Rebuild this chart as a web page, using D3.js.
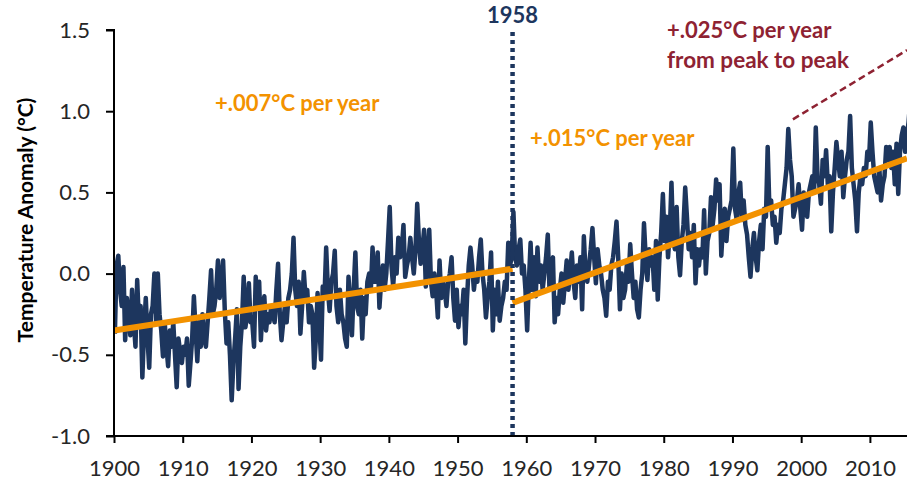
<!DOCTYPE html>
<html>
<head>
<meta charset="utf-8">
<script src="https://cdn.jsdelivr.net/npm/d3@7"></script>
<style>
  body { margin: 0; background: #fff; }
  svg { display: block; font-family: Lato, "Open Sans", sans-serif; }
  .axis path, .axis line { stroke: #000; stroke-width: 2; }
</style>
</head>
<body>
<svg id="chart"></svg>
<script>
// Quarterly temperature anomaly (°C), one array per decade
const anom1900s = [-0.37,0.05,0.11,-0.10, -0.20,0.04,-0.41,-0.15, -0.25,-0.38,-0.10,-0.30, -0.45,-0.04,-0.30,-0.20, -0.64,-0.35,-0.15,-0.40,
                   -0.58,-0.25,-0.20,0.00, -0.30,0.00,-0.25,-0.35, -0.51,-0.30,-0.45,-0.57, -0.35,-0.45,-0.30,-0.50, -0.70,-0.40,-0.48,-0.55];
const anom1910s = [-0.45,-0.50,-0.40,-0.69, -0.55,-0.40,-0.14,-0.35, -0.54,-0.30,-0.45,-0.25, -0.40,-0.45,-0.30,-0.15, 0.02,-0.25,-0.20,-0.10,
                   0.08,-0.15,-0.05,0.08, -0.23,-0.43,-0.30,-0.50, -0.78,-0.55,-0.40,-0.22, -0.71,-0.45,-0.30,-0.02, -0.33,-0.25,-0.06,-0.30];
const anom1920s = [-0.30,-0.45,-0.02,-0.20, -0.05,-0.41,-0.20,-0.14, -0.35,-0.25,-0.30,-0.20, -0.25,-0.30,-0.10,0.06, -0.25,-0.41,-0.30,-0.20,
                   -0.30,-0.15,-0.10,0.00, 0.22,-0.10,-0.20,-0.05, -0.37,-0.20,0.01,-0.15, -0.10,-0.30,-0.20,-0.25, -0.58,-0.40,-0.12,-0.30];
const anom1930s = [-0.53,-0.08,-0.15,0.16, -0.10,-0.23,-0.05,0.00, 0.14,-0.20,-0.30,-0.10, -0.25,-0.30,-0.40,-0.45, -0.02,-0.20,-0.38,-0.10,
                   0.13,-0.20,-0.25,-0.10, -0.40,-0.15,-0.25,-0.05, 0.00,-0.10,0.16,-0.05, -0.05,0.13,-0.21,-0.05, 0.05,-0.10,0.00,0.20];
const anom1940s = [0.41,0.05,-0.08,0.10, 0.00,0.22,0.10,0.15, 0.30,-0.02,0.05,0.10, 0.22,0.10,0.00,0.15, 0.43,0.20,0.06,0.15,
                   0.27,-0.08,0.10,0.27, -0.05,-0.14,0.00,-0.10, -0.27,0.08,-0.15,-0.05, -0.10,-0.20,-0.05,0.00, 0.10,-0.15,-0.29,-0.10];
const anom1950s = [-0.33,-0.20,-0.25,-0.10, -0.43,-0.15,0.05,0.16, 0.05,-0.10,0.00,-0.05, 0.10,0.21,0.00,-0.10, -0.27,-0.15,-0.05,0.13,
                   -0.35,-0.10,-0.25,-0.05, -0.29,-0.20,-0.15,-0.05, -0.10,0.19,0.05,0.10, 0.38,0.10,0.05,0.15, 0.21,0.00,0.05,-0.10];
const anom1960s = [-0.35,-0.05,0.19,-0.10, 0.10,-0.14,0.16,-0.05, 0.05,-0.10,0.00,0.10, 0.24,-0.10,0.05,0.10, -0.30,-0.15,-0.25,-0.10,
                   0.00,-0.18,-0.05,0.08, -0.10,0.00,0.13,-0.05, -0.15,0.05,-0.05,0.10, -0.22,0.23,0.00,-0.05, 0.05,0.15,0.28,0.10];
const anom1970s = [-0.06,0.15,0.05,0.00, -0.10,-0.15,-0.26,-0.05, -0.10,0.05,0.10,0.20, 0.32,0.10,-0.22,0.00, -0.15,-0.10,0.05,-0.05,
                   0.18,0.00,-0.15,-0.05, -0.22,-0.27,-0.10,0.00, 0.31,0.10,-0.04,0.15, 0.05,0.10,-0.10,0.20, -0.16,0.10,0.25,0.49];
const anom1980s = [0.20,0.35,0.10,0.25, 0.56,0.20,0.15,0.41, 0.10,-0.01,0.20,0.30, 0.53,0.35,0.15,0.25, 0.10,0.30,-0.06,0.15,
                   0.05,0.15,0.10,0.39, 0.00,0.20,0.25,0.47, 0.30,0.40,0.58,0.45, 0.55,0.11,0.30,0.40, 0.20,0.35,0.40,0.45];
const anom1990s = [0.77,0.40,0.33,0.50, 0.56,0.33,0.45,0.30, 0.24,0.10,-0.02,0.15, 0.25,0.10,0.02,0.20, 0.30,0.15,0.40,0.35,
                   0.78,0.40,0.45,0.30, 0.35,0.19,0.30,0.25, 0.40,0.45,0.55,0.65, 0.89,0.70,0.60,0.35, 0.40,0.45,0.55,0.40];
const anom2000s = [0.27,0.50,0.45,0.35, 0.50,0.55,0.60,0.50, 0.90,0.60,0.55,0.43, 0.70,0.60,0.76,0.55, 0.60,0.26,0.50,0.65,
                   0.81,0.70,0.60,0.75, 0.47,0.60,0.70,0.75, 0.97,0.65,0.55,0.45, 0.26,0.50,0.60,0.55, 0.65,0.60,0.75,0.70];
const anom2010s = [0.93,0.75,0.60,0.55, 0.50,0.65,0.45,0.55, 0.60,0.78,0.70,0.78, 0.65,0.75,0.55,0.80, 0.49,0.75,0.85,0.90,
                   0.75,0.85,0.93,1.07];

// Trend lines (year, °C)
const trendBefore = [[1900, -0.35], [1958, 0.03]];
const trendAfter = [[1958, -0.18], [2015.4, 0.71]];
const trendPeak = [[1998.8, 0.95], [2015.4, 1.376]];
const splitYear = 1958;

const yTicks = [-1.0, -0.5, 0.0, 0.5, 1.0, 1.5];
const xTicks = [1900, 1910, 1920, 1930, 1940, 1950, 1960, 1970, 1980, 1990, 2000, 2010];

const WIDTH = 907, HEIGHT = 480;
const margin = { top: 30, right: 0, bottom: 44, left: 114 };
const navy = '#1d365e', orange = '#f39200', darkRed = '#8e2232';

const values = [].concat(anom1900s, anom1910s, anom1920s, anom1930s, anom1940s, anom1950s,
    anom1960s, anom1970s, anom1980s, anom1990s, anom2000s, anom2010s);
const series = values.map((v, i) => ({ year: 1900 + (i + 0.5) / 4, v: v }));

let svg = d3.select('#chart')
    .attr('width', WIDTH)
    .attr('height', HEIGHT);

let x = d3.scaleLinear()
    .domain([1900, 2015.4])
    .range([margin.left, WIDTH - margin.right]);
let y = d3.scaleLinear()
    .domain([-1.0, 1.5])
    .range([HEIGHT - margin.bottom, margin.top]);

svg.append('clipPath').attr('id', 'plot-clip')
    .append('rect')
    .attr('x', margin.left).attr('y', 0)
    .attr('width', WIDTH - margin.left).attr('height', HEIGHT - margin.bottom);

let line = d3.line().x(d => x(d.year)).y(d => y(d.v));
let trendLine = d3.line().x(d => x(d[0])).y(d => y(d[1]));

svg.append('path')
    .datum(series)
    .attr('clip-path', 'url(#plot-clip)')
    .attr('d', line)
    .attr('fill', 'none')
    .attr('stroke', navy)
    .attr('stroke-width', 4.5)
    .attr('stroke-linejoin', 'round');

[trendBefore, trendAfter].forEach(t => {
    svg.append('path')
        .datum(t)
        .attr('d', trendLine)
        .attr('fill', 'none')
        .attr('stroke', orange)
        .attr('stroke-width', 6);
});

svg.append('path')
    .datum(trendPeak)
    .attr('d', trendLine)
    .attr('fill', 'none')
    .attr('stroke', darkRed)
    .attr('stroke-width', 2.5)
    .attr('stroke-dasharray', '7 4');

svg.append('line')
    .attr('x1', x(splitYear)).attr('x2', x(splitYear))
    .attr('y1', 32).attr('y2', y(-1.0))
    .attr('stroke', navy)
    .attr('stroke-width', 4.5)
    .attr('stroke-dasharray', '4 4');

// Axes
const fmt = d => d3.format('.1f')(d).replace('−', '-');
let yAxisG = svg.append('g')
    .attr('class', 'axis')
    .attr('transform', `translate(${margin.left},0)`)
    .call(d3.axisLeft(y).tickValues(yTicks).tickFormat(fmt).tickSize(8).tickPadding(16))
    .call(g => g.select('.domain').attr('d', `M-8,${y(1.5)}H0V${y(-1.0)}H-8`));

let xAxisG = svg.append('g')
    .attr('class', 'axis')
    .attr('transform', `translate(0,${y(-1.0)})`)
    .call(d3.axisBottom(x).tickValues(xTicks).tickFormat(d3.format('d')).tickSize(7).tickPadding(17))
    .call(g => g.select('.domain').attr('d', `M${margin.left},0H${WIDTH}`));

[yAxisG, xAxisG].forEach(g => g.attr('font-size', null).attr('font-family', null)
    .selectAll('text').style('font-size', '22px').attr('fill', '#262626'));

svg.append('text')
    .attr('transform', `translate(33,220) rotate(-90)`)
    .attr('text-anchor', 'middle')
    .style('font-size', '21px')
    .style('font-weight', 'bold')
    .attr('fill', '#000')
    .text('Temperature Anomaly (°C)');

// Annotations
function note(text, px, py, color, size) {
    svg.append('text')
        .attr('x', px).attr('y', py)
        .attr('fill', color)
        .style('font-size', size + 'px')
        .style('font-weight', 'bold')
        .text(text);
}
svg.append('text')
    .attr('x', x(splitYear)).attr('y', 23)
    .attr('text-anchor', 'middle')
    .attr('fill', navy)
    .style('font-size', '22px')
    .style('font-weight', 'bold')
    .text(splitYear);
note('+.007°C per year', 215, 111, orange, 22);
note('+.015°C per year', 530, 146, orange, 22);
note('+.025°C per year', 667, 38, darkRed, 22);
note('from peak to peak', 667, 68, darkRed, 22.5);
</script>
</body>
</html>
